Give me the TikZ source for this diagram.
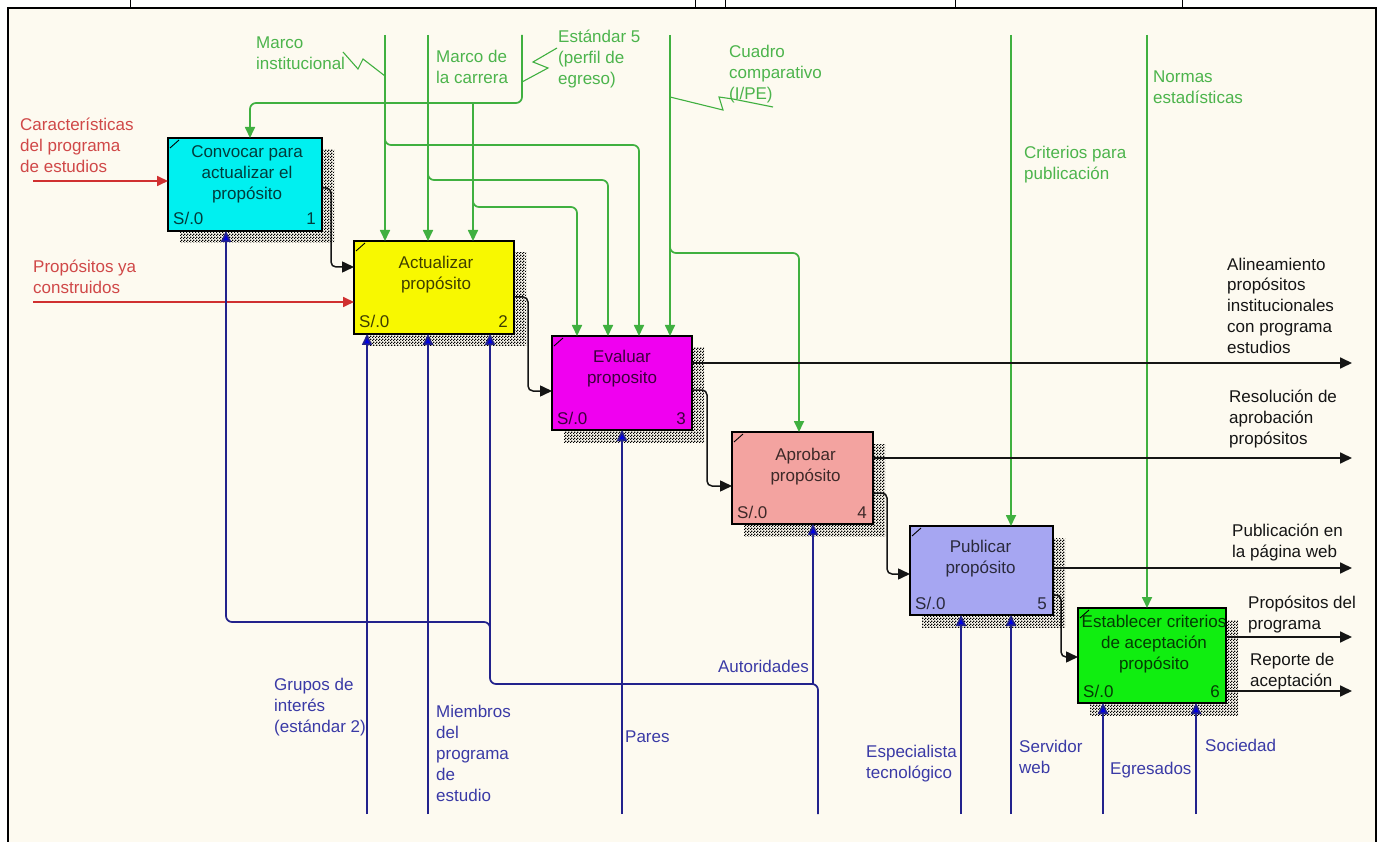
\documentclass[tikz,border=0pt]{standalone}
\usepackage{fontspec}
\setmainfont{Liberation Sans}
\usetikzlibrary{arrows.meta,patterns,backgrounds,calc}
\definecolor{bgc}{HTML}{FDFAF0}
\definecolor{cyanbox}{HTML}{00F0F0}
\definecolor{yelbox}{HTML}{F8F800}
\definecolor{magbox}{HTML}{F000F0}
\definecolor{salbox}{HTML}{F3A3A0}
\definecolor{lavbox}{HTML}{A6A6F2}
\definecolor{grnbox}{HTML}{10EE10}
\definecolor{ctlc}{HTML}{40B040}
\definecolor{ctlt}{HTML}{4CB44C}
\definecolor{inpc}{HTML}{D03030}
\definecolor{inpt}{HTML}{D04848}
\definecolor{mchc}{HTML}{22228C}
\definecolor{mcha}{HTML}{0000E6}
\definecolor{mcht}{HTML}{3A3AA6}
\definecolor{outc}{HTML}{151515}
\pgfdeclarepatternformonly{idefshadow}{\pgfqpoint{0pt}{0pt}}{\pgfqpoint{3pt}{3pt}}{\pgfqpoint{3pt}{3pt}}{%
  \pgfpathrectangle{\pgfqpoint{0pt}{0pt}}{\pgfqpoint{1.6pt}{1.6pt}}%
  \pgfpathrectangle{\pgfqpoint{1.5pt}{1.5pt}}{\pgfqpoint{1.6pt}{1.6pt}}%
  \pgfusepath{fill}}
\begin{document}
\begin{tikzpicture}[x=1pt,y=-1pt,
  font=\fontsize{17}{21}\selectfont,
  box/.style={draw=black, line width=1.4pt, inner sep=0pt, outer sep=0pt},
  ttl/.style={inner sep=0pt, align=center, anchor=base},
  lab/.style={inner sep=0pt, align=left, anchor=base west},
  ctl/.style={draw=ctlc, line width=1.7pt, -{Triangle[length=11pt,width=10pt]}, rounded corners=6pt},
  zz/.style={draw=ctlc, line width=1.1pt},
  inp/.style={draw=inpc, line width=1.7pt, -{Triangle[length=11pt,width=10pt]}},
  mch/.style={draw=mchc, line width=1.7pt, -{Triangle[length=11pt,width=10pt,fill=mcha]}, rounded corners=6pt},
  outp/.style={draw=outc, line width=1.7pt, -{Triangle[length=12pt,width=11pt]}},
  stp/.style={draw=outc, line width=1.5pt, -{Triangle[length=12pt,width=11pt]}, rounded corners=5pt},
  shad/.style={pattern=idefshadow, pattern color=black},
  tick/.style={draw=black, line width=0.9pt}
]
\useasboundingbox (0,0) rectangle (1382,842);

% ---------- boxes ----------
\node[box, fill=cyanbox, minimum width=154pt, minimum height=93pt] (b1) at (245,184.5) {};
\node[box, fill=yelbox,  minimum width=160pt, minimum height=93pt] (b2) at (434,287.5) {};
\node[box, fill=magbox,  minimum width=140pt, minimum height=94pt] (b3) at (622,383) {};
\node[box, fill=salbox,  minimum width=141pt, minimum height=92pt] (b4) at (802.5,478) {};
\node[box, fill=lavbox,  minimum width=143pt, minimum height=89pt] (b5) at (981.5,570.5) {};
\node[box, fill=grnbox,  minimum width=148pt, minimum height=95pt] (b6) at (1152,655.5) {};

\begin{pgfonlayer}{background}
  \fill[white] (0,0) rectangle (1382,842);
  \fill[bgc] (8,8) rectangle (1376,842);
  \foreach \b in {b1,b2,b3,b4,b5,b6}{
    \fill[shad] ($(\b.north west)+(12,12)$) rectangle ($(\b.south east)+(12,12)$);
  }
\end{pgfonlayer}

% frame
\draw[line width=1.5pt] (8,842) -- (8,8) -- (1376,8) -- (1376,842);
\foreach \x in {130,695,725,955,1182}{\draw[line width=1pt] (\x,0) -- (\x,8);}

% box corner ticks and texts
\foreach \b/\n/\c in {b1/1/cyanbox,b2/2/yelbox,b3/3/magbox,b4/4/salbox,b5/5/lavbox,b6/6/grnbox}{
  \draw[tick] ($(\b.north west)+(2,10)$) -- ($(\b.north west)+(11,2)$);
  \node[inner sep=0pt, anchor=base west, text=\c!25!black] at ($(\b.south west)+(5,-6)$) {S/.0};
  \node[inner sep=0pt, anchor=base east, text=\c!25!black] at ($(\b.south east)+(-6,-6)$) {\n};
}
\node[ttl, text=cyanbox!25!black] (t1) at ($(b1.north)+(2,62)$) {Convocar para\\actualizar el\\propósito};
\node[ttl, text=yelbox!25!black]  (t2) at ($(b2.north)+(2,49)$) {Actualizar\\propósito};
\node[ttl, text=magbox!25!black]  (t3) at ($(b3.north)+(0,48)$) {Evaluar\\proposito};
\node[ttl, text=salbox!25!black]  (t4) at ($(b4.north)+(3,49)$) {Aprobar\\propósito};
\node[ttl, text=lavbox!25!black]  (t5) at ($(b5.north)+(-1,47)$) {Publicar\\propósito};
\node[ttl, text=grnbox!25!black]  (t6) at ($(b6.north)+(2,61)$) {Establecer criterios\\de aceptación\\propósito};

% ---------- inputs ----------
\coordinate (in1) at (33,181);
\coordinate (in2) at (33,302);
\draw[inp] (in1) -- (in1 -| b1.west);
\draw[inp] (in2) -- (in2 -| b2.west);
\node[lab, text=inpt] (l_in1) at (20,173) {Características\\del programa\\de estudios};
\node[lab, text=inpt] (l_in2) at (33,294) {Propósitos ya\\construidos};

% ---------- controls ----------
\coordinate (g1) at (385,35);
\coordinate (g2) at (428,35);
\coordinate (g3) at (522,35);
\coordinate (g4) at (670,35);
\coordinate (g5) at (1011,35);
\coordinate (g6) at (1147,35);
\draw[ctl] (g1) -- (g1 |- b2.north);
\draw[ctl] (g2) -- (g2 |- b2.north);
\coordinate (k1) at (250,103);
\draw[ctl] (g3) |- (k1) -- (k1 |- b1.north);
\coordinate (k2) at (473,103);
\draw[ctl] (k2) -- (k2 |- b2.north);
\coordinate (k3) at (473,199);
\coordinate (e31) at (577,207);
\draw[ctl] (k3) |- (e31) -- (e31 |- b3.north);
\coordinate (k5) at (428,172);
\coordinate (e32) at (608,180);
\draw[ctl] (k5) |- (e32) -- (e32 |- b3.north);
\coordinate (k4) at (385,137);
\coordinate (e33) at (639,145);
\draw[ctl] (k4) |- (e33) -- (e33 |- b3.north);
\draw[ctl] (g4) -- (g4 |- b3.north);
\coordinate (k6) at (670,245);
\coordinate (e41) at (799,253);
\draw[ctl] (k6) |- (e41) -- (e41 |- b4.north);
\draw[ctl] (g5) -- (g5 |- b5.north);
\draw[ctl] (g6) -- (g6 |- b6.north);

\node[lab, text=ctlt] (l_c1) at (256,70) {Marco\\institucional};
\node[lab, text=ctlt] (l_c2) at (436,84) {Marco de\\la carrera};
\node[lab, text=ctlt] (l_c3) at (558,85) {Estándar 5\\(perfil de\\egreso)};
\node[lab, text=ctlt] (l_c4) at (729,100) {Cuadro\\comparativo\\(I/PE)};
\node[lab, text=ctlt] (l_c5) at (1024,180) {Criterios para\\publicación};
\node[lab, text=ctlt] (l_c6) at (1153,104) {Normas\\estadísticas};

% squiggles
\draw[zz] (343,52) -- (358,69) -- (363,59) -- (385,76);
\draw[zz] (557,48) -- (533,62) -- (548,68) -- (522,82);
\draw[zz] (670,97) -- (723,110) -- (719,97) -- (733,99) -- (773,107);

% ---------- outputs ----------
\coordinate (o1) at (1352,363);
\coordinate (o2) at (1352,458);
\coordinate (o3) at (1352,568);
\coordinate (o4) at (1352,637);
\coordinate (o5) at (1352,691);
\draw[outp] (o1 -| b3.east) -- (o1);
\draw[outp] (o2 -| b4.east) -- (o2);
\draw[outp] (o3 -| b5.east) -- (o3);
\draw[outp] (o4 -| b6.east) -- (o4);
\draw[outp] (o5 -| b6.east) -- (o5);
\node[lab, text=outc] (l_o1) at (1227,354) {Alineamiento\\propósitos\\institucionales\\con programa\\estudios};
\node[lab, text=outc] (l_o2) at (1229,444) {Resolución de\\aprobación\\propósitos};
\node[lab, text=outc] (l_o3) at (1232,557) {Publicación en\\la página web};
\node[lab, text=outc] (l_o4) at (1248,629) {Propósitos del\\programa};
\node[lab, text=outc] (l_o5) at (1250,686) {Reporte de\\aceptación};

% ---------- steps ----------
\coordinate (s1a) at (331,188); \coordinate (s1b) at (331,267);
\draw[stp] (s1a -| b1.east) -- (s1a) -- (s1b) -- (s1b -| b2.west);
\coordinate (s2a) at (528,297); \coordinate (s2b) at (528,391);
\draw[stp] (s2a -| b2.east) -- (s2a) -- (s2b) -- (s2b -| b3.west);
\coordinate (s3a) at (707,390); \coordinate (s3b) at (707,486);
\draw[stp] (s3a -| b3.east) -- (s3a) -- (s3b) -- (s3b -| b4.west);
\coordinate (s4a) at (887,493); \coordinate (s4b) at (887,574);
\draw[stp] (s4a -| b4.east) -- (s4a) -- (s4b) -- (s4b -| b5.west);
\coordinate (s5a) at (1061,595); \coordinate (s5b) at (1061,657);
\draw[stp] (s5a -| b5.east) -- (s5a) -- (s5b) -- (s5b -| b6.west);

% ---------- mechanisms ----------
\coordinate (m1) at (367,814);
\coordinate (m2) at (428,814);
\coordinate (m3) at (622,814);
\coordinate (m4) at (818,814);
\coordinate (m5) at (961,814);
\coordinate (m6) at (1011,814);
\coordinate (m7) at (1103,814);
\coordinate (m8) at (1196,814);
\draw[mch] (m1) -- (m1 |- b2.south);
\draw[mch] (m2) -- (m2 |- b2.south);
\draw[mch] (m3) -- (m3 |- b3.south);
\coordinate (j1) at (490,684);
\draw[mch] (m4) |- (j1) -- (j1 |- b2.south);
\coordinate (j2) at (813,684);
\draw[mch] (j2) -- (j2 |- b4.south);
\coordinate (j3) at (490,632);
\coordinate (j4) at (226,622);
\draw[mch] (j3) |- (j4) -- (j4 |- b1.south);
\draw[mch] (m5) -- (m5 |- b5.south);
\draw[mch] (m6) -- (m6 |- b5.south);
\draw[mch] (m7) -- (m7 |- b6.south);
\draw[mch] (m8) -- (m8 |- b6.south);

\node[lab, text=mcht] (l_m1) at (274,732) {Grupos de\\interés\\(estándar 2)};
\node[lab, text=mcht] (l_m2) at (436,801) {Miembros\\del\\programa\\de\\estudio};
\node[lab, text=mcht] (l_m3) at (625,742) {Pares};
\node[inner sep=0pt, anchor=base east, text=mcht] (l_m4) at (809,672) {Autoridades};
\node[lab, text=mcht] (l_m5) at (866,778) {Especialista\\tecnológico};
\node[lab, text=mcht] (l_m6) at (1019,773) {Servidor\\web};
\node[lab, text=mcht] (l_m7) at (1110,774) {Egresados};
\node[lab, text=mcht] (l_m8) at (1205,751) {Sociedad};
\end{tikzpicture}
\end{document}
